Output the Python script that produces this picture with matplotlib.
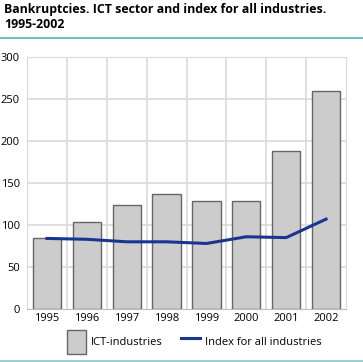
import matplotlib.pyplot as plt
from matplotlib.lines import Line2D
from matplotlib.patches import Patch

years = ['1995', '1996', '1997', '1998', '1999', '2000', '2001', '2002']
ict = [84, 104, 124, 137, 128, 129, 188, 260]
index_all = [84, 83, 80, 80, 78, 86, 85, 107]
yticks = [0, 50, 100, 150, 200, 250, 300]

plt.rcParams['font.family'] = ['Open Sans', 'DejaVu Sans']

fig = plt.figure(figsize=(3.63, 3.62), dpi=100)
ax = fig.add_axes([27 / 363, 53 / 362, 319 / 363, 252 / 362])

x = list(range(len(years)))
ax.bar(x, ict, width=0.71, color='#cccccc', edgecolor='#666666', linewidth=1, zorder=2)
ax.plot(x, index_all, color='#1a3591', linewidth=2.2, zorder=3)

ax.set_xlim(-0.5, len(years) - 0.5)
ax.set_ylim(0, 300)
ax.set_yticks(yticks)
ax.set_xticks(x)
ax.set_xticklabels(years)
ax.tick_params(length=0, labelsize=8, colors='#000000')
ax.tick_params(axis='y', pad=5)
ax.tick_params(axis='x', pad=3)

# rutenett
for yv in yticks[1:]:
    ax.axhline(yv, color='#dadada', linewidth=1.2, zorder=1)
for xv in [i + 0.5 for i in x[:-1]]:
    ax.axvline(xv, color='#dadada', linewidth=1.2, zorder=1)
for s in ax.spines.values():
    s.set_color('#dadada')
ax.spines['bottom'].set_color('#bbbbbb')

handles = [Patch(facecolor='#cccccc', edgecolor='#666666', label='ICT-industries'),
           Line2D([0], [0], color='#1a3591', linewidth=2.2, label='Index for all industries')]
fig.legend(handles=handles, loc='center', bbox_to_anchor=(0.535, 0.055), ncol=2,
           frameon=False, fontsize=8, handlelength=1.7, handleheight=2.9,
           columnspacing=1.6, handletextpad=0.5)

fig.text(4 / 363, 1 - 3 / 362, 'Bankruptcies. ICT sector and index for all industries.\n1995-2002',
         ha='left', va='top', fontsize=8.9, fontweight='bold', linespacing=1.25)
fig.add_artist(Line2D([0, 1], [1 - 37.5 / 362, 1 - 37.5 / 362], color='#4db8b8', linewidth=1.2))
fig.add_artist(Line2D([0, 1], [1 - 360.5 / 362, 1 - 360.5 / 362], color='#8fcfcc', linewidth=2))

fig.savefig('out.png', dpi=100)
